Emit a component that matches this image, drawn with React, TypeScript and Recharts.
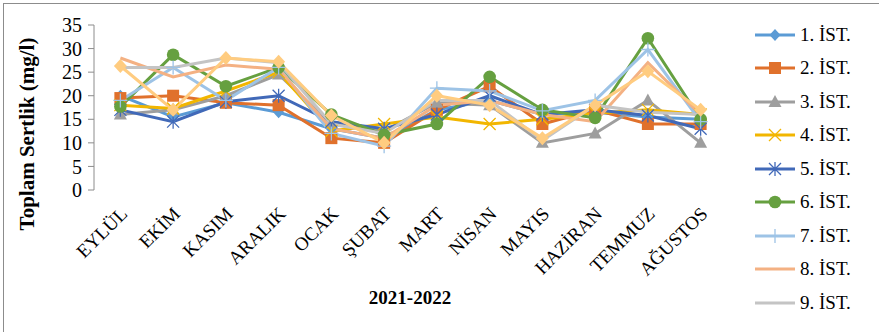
import React from 'react';
import { LineChart, Line, XAxis, YAxis, Legend, Label } from 'recharts';

const months = ['EYLÜL', 'EKİM', 'KASIM', 'ARALIK', 'OCAK', 'ŞUBAT', 'MART', 'NİSAN', 'MAYIS', 'HAZİRAN', 'TEMMUZ', 'AĞUSTOS'];
const yTicks = [0, 5, 10, 15, 20, 25, 30, 35];

const ist1 = [20, 15.5, 18.5, 16.5, 13, 11, 17, 19, 16, 16.5, 15.5, 15];
const ist2 = [19.5, 20, 18.5, 18, 11, 10, 17, 22, 14, 17, 14, 14];
const ist3 = [16, 17, 20, 24.5, 14, 12.5, 18.5, 18, 10, 12, 19, 10];
const ist4 = [18, 17.3, 21, 25, 12.5, 14, 15.5, 14, 15, 16.3, 17, 16];
const ist5 = [17, 14.5, 18.7, 20, 14.5, 13, 16, 20, 16, 17, 15.8, 13];
const ist6 = [17.7, 28.7, 22, 26, 16, 11.7, 14, 24, 17, 15.3, 32.2, 15];
const ist7 = [19, 26, 19, 26, 12, 9.3, 21.6, 21, 16.8, 19, 29.8, 14.5];
const ist8 = [28, 24, 26.5, 25.6, 13, 11, 18, 19, 16, 14.5, 27, 16];
const ist9 = [26, 26, 28, 27, 14, 12, 19, 19, 10.5, 18, 16.5, 16];
const ist10 = [26.3, 17, 28, 27.2, 15.8, 10, 20, 18, 11, 18, 25.2, 17];

const series = [
  { key: 'ist1', name: '1. İST.', values: ist1, color: '#5B9BD5', shape: 'diamond' },
  { key: 'ist2', name: '2. İST.', values: ist2, color: '#E0712C', shape: 'square' },
  { key: 'ist3', name: '3. İST.', values: ist3, color: '#9E9E9E', shape: 'triangle' },
  { key: 'ist4', name: '4. İST.', values: ist4, color: '#F2B600', shape: 'x' },
  { key: 'ist5', name: '5. İST.', values: ist5, color: '#4169B8', shape: 'star' },
  { key: 'ist6', name: '6. İST.', values: ist6, color: '#66A040', shape: 'circle' },
  { key: 'ist7', name: '7. İST.', values: ist7, color: '#9DC3E6', shape: 'plus' },
  { key: 'ist8', name: '8. İST.', values: ist8, color: '#F4B183', shape: 'none' },
  { key: 'ist9', name: '9. İST.', values: ist9, color: '#C4C4C4', shape: 'none' },
  { key: 'ist10', name: '10. İST.', values: ist10, color: '#FFCC80', shape: 'diamond10' },
];

const data = months.map((m, i) => {
  const row: any = { i, month: m };
  series.forEach(s => { row[s.key] = s.values[i]; });
  return row;
});

const FONT = '"Liberation Serif", "Times New Roman", serif';

function Marker({ shape, cx, cy, color }: { shape: string; cx: number; cy: number; color: string }) {
  switch (shape) {
    case 'diamond':
      return <path d={`M${cx},${cy - 6}L${cx + 5.5},${cy}L${cx},${cy + 6}L${cx - 5.5},${cy}Z`} fill={color} />;
    case 'diamond10':
      return <path d={`M${cx},${cy - 7}L${cx + 6.5},${cy}L${cx},${cy + 7}L${cx - 6.5},${cy}Z`} fill={color} />;
    case 'square':
      return <rect x={cx - 6} y={cy - 6} width={12} height={12} fill={color} />;
    case 'triangle':
      return <path d={`M${cx},${cy - 7}L${cx + 6.5},${cy + 5}L${cx - 6.5},${cy + 5}Z`} fill={color} />;
    case 'circle':
      return <circle cx={cx} cy={cy} r={6.3} fill={color} />;
    case 'x':
      return <path d={`M${cx - 6},${cy - 6}L${cx + 6},${cy + 6}M${cx - 6},${cy + 6}L${cx + 6},${cy - 6}`} stroke={color} strokeWidth={1.3} fill="none" />;
    case 'star':
      return <path d={`M${cx - 6},${cy - 6}L${cx + 6},${cy + 6}M${cx - 6},${cy + 6}L${cx + 6},${cy - 6}M${cx},${cy - 7}L${cx},${cy + 7}`} stroke={color} strokeWidth={1.3} fill="none" />;
    case 'plus':
      return <path d={`M${cx},${cy - 7}L${cx},${cy + 7}M${cx - 7},${cy}L${cx + 7},${cy}`} stroke={color} strokeWidth={1.3} fill="none" />;
    default:
      return <g />;
  }
}

const MonthTick = (props: any) => {
  const { x, y, payload } = props;
  return (
    <g transform={`translate(${x + 8},${y + 17})`}>
      <text x={0} y={0} textAnchor="end" transform="rotate(-45)" fontFamily={FONT} fontSize={19} fill="#000">
        {months[payload.value]}
      </text>
    </g>
  );
};

const LegendBox = () => (
  <div style={{ fontFamily: FONT, fontSize: 19, color: '#000' }}>
    {series.slice(0, 9).map(s => (
      <div key={s.key} style={{ height: 33.5, display: 'flex', alignItems: 'center' }}>
        <svg width={42} height={18} style={{ display: 'block' }}>
          <line x1={0} y1={9} x2={40} y2={9} stroke={s.color} strokeWidth={3} />
          <Marker shape={s.shape} cx={20} cy={9} color={s.color} />
        </svg>
        <span style={{ marginLeft: 3, whiteSpace: 'nowrap' }}>{s.name}</span>
      </div>
    ))}
  </div>
);

export default function App() {
  return (
    <div style={{ position: 'absolute', left: 0, top: 0, width: 879, height: 332, overflow: 'hidden', background: '#fff' }}>
      <div style={{ position: 'absolute', left: 3, top: 3, width: 900, height: 360, border: '1px solid #8c8c8c' }} />
      <LineChart width={879} height={332} data={data} margin={{ top: 25, right: 152, left: 0, bottom: 0 }}>
        <XAxis
          xAxisId="b"
          type="number"
          dataKey="i"
          domain={[-0.5, 11.5]}
          ticks={[-0.5, 0.5, 1.5, 2.5, 3.5, 4.5, 5.5, 6.5, 7.5, 8.5, 9.5, 10.5, 11.5]}
          tick={false}
          height={0}
          tickSize={6}
          stroke="#8c8c8c"
        />
        <XAxis
          type="number"
          dataKey="i"
          domain={[-0.5, 11.5]}
          ticks={[0, 1, 2, 3, 4, 5, 6, 7, 8, 9, 10, 11]}
          tick={<MonthTick />}
          tickLine={false}
          axisLine={false}
          height={142}
          interval={0}
        >
          <Label
            content={() => (
              <text x={410} y={304} textAnchor="middle" fontFamily={FONT} fontSize={19} fontWeight="bold" fill="#000">
                2021-2022
              </text>
            )}
          />
        </XAxis>
        <YAxis
          width={94}
          domain={[0, 35]}
          ticks={yTicks}
          interval={0}
          tickSize={6}
          tickMargin={6}
          stroke="#8c8c8c"
          tick={{ fill: '#000', fontFamily: FONT, fontSize: 20 }}
        >
          <Label
            content={() => (
              <text x={0} y={0} transform="translate(34,134) rotate(-90)" textAnchor="middle" fontFamily={FONT} fontSize={21} fontWeight="bold" fill="#000">
                Toplam Sertlik (mg/l)
              </text>
            )}
          />
        </YAxis>
        <Legend
          layout="vertical"
          align="center"
          verticalAlign="middle"
          wrapperStyle={{ left: 755, top: 18, width: 124 }}
          content={() => <LegendBox />}
        />
        {series.map(s => (
          <Line
            key={s.key}
            dataKey={s.key}
            name={s.name}
            stroke={s.color}
            strokeWidth={3}
            isAnimationActive={false}
            legendType={s.key === 'ist10' ? 'none' : 'line'}
            dot={(p: any) => <Marker key={`${s.key}-${p.index}`} shape={s.shape} cx={p.cx} cy={p.cy} color={s.color} />}
            activeDot={false}
          />
        ))}
      </LineChart>
    </div>
  );
}
